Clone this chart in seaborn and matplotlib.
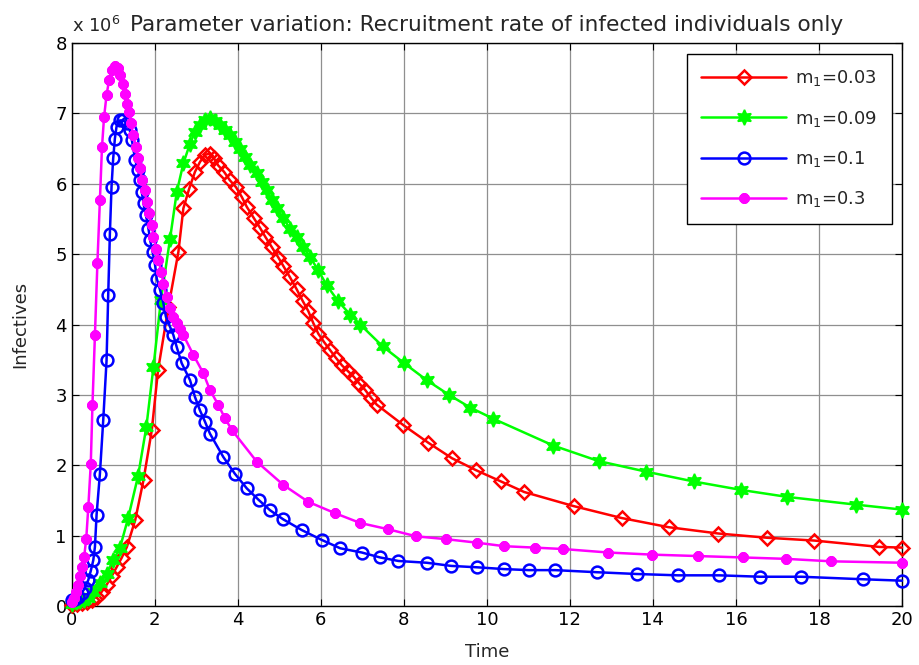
import matplotlib
matplotlib.use('Agg')
import matplotlib.pyplot as plt
import seaborn as sns

# infectives (in millions) for each recruitment rate m1
t_003 = [0, 0.12, 0.24, 0.36, 0.48, 0.6, 0.72, 0.84, 0.96, 1.08, 1.2, 1.33, 1.53, 1.73, 1.93,
         2.08, 2.33, 2.57, 2.69, 2.83, 2.97, 3.09, 3.21, 3.32, 3.43, 3.53, 3.67, 3.81, 3.96,
         4.10, 4.22, 4.38, 4.54, 4.66, 4.82, 4.98, 5.10, 5.26, 5.42, 5.56, 5.70, 5.82, 5.94,
         6.08, 6.22, 6.36, 6.51, 6.65, 6.79, 6.93, 7.07, 7.21, 7.35, 7.99, 8.59, 9.16, 9.74,
         10.34, 10.90, 12.09, 13.25, 14.38, 15.58, 16.75, 17.89, 19.45, 20]
i_003 = [0.02, 0.03, 0.04, 0.06, 0.09, 0.13, 0.2, 0.3, 0.42, 0.55, 0.68, 0.84, 1.22, 1.79, 2.50,
         3.35, 4.25, 5.03, 5.65, 5.93, 6.17, 6.31, 6.41, 6.43, 6.36, 6.26, 6.17, 6.05, 5.95,
         5.81, 5.67, 5.52, 5.37, 5.25, 5.10, 4.95, 4.83, 4.67, 4.50, 4.34, 4.19, 4.02, 3.87,
         3.75, 3.64, 3.53, 3.42, 3.34, 3.26, 3.16, 3.07, 2.96, 2.86, 2.57, 2.32, 2.10, 1.93,
         1.77, 1.62, 1.42, 1.25, 1.12, 1.03, 0.97, 0.93, 0.84, 0.83]

t_009 = [0, 0.1, 0.2, 0.3, 0.4, 0.52, 0.68, 0.84, 1.0, 1.16, 1.36, 1.6, 1.8, 1.97, 2.15, 2.37,
         2.53, 2.69, 2.85, 2.97, 3.09, 3.21, 3.33, 3.45, 3.57, 3.69, 3.81, 3.94, 4.06, 4.18,
         4.30, 4.46, 4.58, 4.70, 4.82, 4.94, 5.10, 5.26, 5.42, 5.58, 5.74, 5.94, 6.14, 6.42,
         6.71, 6.95, 7.49, 8.01, 8.55, 9.09, 9.60, 10.16, 11.60, 12.69, 13.83, 14.98, 16.12,
         17.24, 18.90, 20]
i_009 = [0.03, 0.05, 0.07, 0.09, 0.12, 0.20, 0.32, 0.46, 0.65, 0.82, 1.25, 1.85, 2.55, 3.40,
         4.35, 5.22, 5.88, 6.29, 6.57, 6.74, 6.83, 6.90, 6.93, 6.89, 6.83, 6.76, 6.69, 6.60,
         6.50, 6.38, 6.26, 6.15, 6.03, 5.91, 5.77, 5.65, 5.51, 5.36, 5.25, 5.10, 4.96, 4.77,
         4.56, 4.33, 4.14, 4.00, 3.69, 3.45, 3.21, 3.00, 2.82, 2.66, 2.28, 2.06, 1.91, 1.77,
         1.65, 1.55, 1.44, 1.37]

t_01 = [0, 0.08, 0.16, 0.24, 0.32, 0.40, 0.46, 0.52, 0.56, 0.60, 0.68, 0.76, 0.84, 0.88, 0.92,
        0.96, 1.00, 1.04, 1.08, 1.16, 1.24, 1.33, 1.40, 1.45, 1.53, 1.60, 1.65, 1.69, 1.73,
        1.79, 1.85, 1.89, 1.95, 2.01, 2.05, 2.13, 2.21, 2.27, 2.36, 2.45, 2.53, 2.65, 2.85,
        2.97, 3.09, 3.21, 3.33, 3.65, 3.93, 4.22, 4.50, 4.78, 5.10, 5.54, 6.02, 6.47, 6.99,
        7.43, 7.87, 8.55, 9.14, 9.77, 10.41, 11.01, 11.64, 12.66, 13.61, 14.60, 15.60, 16.59,
        17.57, 19.07, 20]
i_01 = [0.08, 0.10, 0.13, 0.18, 0.26, 0.37, 0.50, 0.65, 0.84, 1.30, 1.88, 2.64, 3.49, 4.42,
        5.29, 5.96, 6.36, 6.64, 6.81, 6.90, 6.90, 6.86, 6.76, 6.62, 6.34, 6.19, 6.05, 5.88,
        5.72, 5.55, 5.36, 5.20, 5.03, 4.84, 4.65, 4.49, 4.30, 4.11, 3.98, 3.85, 3.68, 3.45,
        3.21, 2.97, 2.78, 2.62, 2.45, 2.12, 1.88, 1.67, 1.51, 1.36, 1.23, 1.08, 0.94, 0.82,
        0.76, 0.69, 0.64, 0.615, 0.57, 0.55, 0.525, 0.51, 0.51, 0.48, 0.455, 0.436, 0.436,
        0.416, 0.416, 0.38, 0.36]

t_03 = [0, 0.05, 0.1, 0.15, 0.2, 0.25, 0.3, 0.35, 0.4, 0.46, 0.5, 0.56, 0.62, 0.68, 0.73,
        0.78, 0.84, 0.90, 0.97, 1.04, 1.12, 1.16, 1.24, 1.28, 1.33, 1.37, 1.43, 1.48, 1.55,
        1.60, 1.65, 1.69, 1.76, 1.81, 1.86, 1.93, 1.97, 2.04, 2.09, 2.16, 2.21, 2.29, 2.37,
        2.45, 2.53, 2.61, 2.69, 2.93, 3.17, 3.33, 3.53, 3.69, 3.86, 4.46, 5.10, 5.70, 6.34,
        6.95, 7.63, 8.30, 9.02, 9.76, 10.42, 11.15, 11.83, 12.93, 13.99, 15.08, 16.17, 17.21,
        18.30, 20]
i_03 = [0.05, 0.12, 0.2, 0.3, 0.42, 0.55, 0.7, 0.95, 1.4, 2.02, 2.85, 3.85, 4.88, 5.77, 6.52,
        6.95, 7.26, 7.47, 7.61, 7.68, 7.64, 7.54, 7.42, 7.28, 7.14, 7.02, 6.86, 6.69, 6.52,
        6.36, 6.22, 6.05, 5.91, 5.74, 5.58, 5.41, 5.25, 5.08, 4.91, 4.75, 4.58, 4.39, 4.23,
        4.10, 4.02, 3.94, 3.85, 3.57, 3.31, 3.07, 2.86, 2.67, 2.50, 2.05, 1.72, 1.48, 1.32,
        1.18, 1.09, 0.99, 0.95, 0.90, 0.85, 0.83, 0.81, 0.76, 0.73, 0.71, 0.69, 0.67, 0.635,
        0.615]

labels = ['m$_1$=0.03', 'm$_1$=0.09', 'm$_1$=0.1', 'm$_1$=0.3']

sns.set_style('ticks')
plt.rcParams['font.family'] = ['DejaVu Sans']
plt.rcParams.update({'font.size': 13, 'mathtext.default': 'regular'})

fig = plt.figure(figsize=(9.19, 6.65), dpi=100)
ax = fig.add_axes([0.078, 0.0887, 0.9035, 0.8466])

styles = [
    dict(color='#ff0000', marker='D', markersize=7.5, markerfacecolor='none', markeredgewidth=1.8),
    dict(color='#00ff00', marker=(6, 1, 0), markersize=11, markerfacecolor='#00ff00', markeredgewidth=1.2),
    dict(color='#0000ff', marker='o', markersize=8.5, markerfacecolor='none', markeredgewidth=1.8),
    dict(color='#ff00ff', marker=(8, 2, 0), markersize=7.5, markeredgewidth=2.6),
]
series = [(t_003, i_003), (t_009, i_009), (t_01, i_01), (t_03, i_03)]

for (t, inf), lab, st in zip(series, labels, styles):
    sns.lineplot(x=t, y=inf, ax=ax, sort=False, estimator=None, linewidth=1.8, label=lab,
                 markeredgecolor=st['color'], clip_on=False, zorder=3, **st)

ax.set_xlim(0, 20)
ax.set_ylim(0, 8)
ax.set_xticks(range(0, 21, 2))
ax.set_yticks(range(0, 9))
ax.grid(True, color='#8f8f8f', linewidth=0.9)
ax.set_axisbelow(True)
ax.tick_params(direction='in', top=True, right=True, length=5, width=0.8, colors='black')
for sp in ax.spines.values():
    sp.set_visible(True)
    sp.set_color('black')
    sp.set_linewidth(1.0)

ax.set_xlabel('Time', labelpad=10)
ax.set_ylabel('Infectives', labelpad=19)
ax.set_title('Parameter variation: Recruitment rate of infected individuals only', pad=9)
ax.annotate('x 10$^6$', xy=(0, 1), xycoords='axes fraction', xytext=(0, 5),
            textcoords='offset points', ha='left', va='bottom')

leg = ax.legend(loc='upper right', bbox_to_anchor=(0.9815 - 10 / 919, 1 - 54 / 665),
                bbox_transform=fig.transFigure, borderaxespad=0, fancybox=False,
                framealpha=1, edgecolor='black', handlelength=4.7, handletextpad=0.5,
                labelspacing=1.12, borderpad=0.8, numpoints=1)
leg.get_frame().set_linewidth(1.0)

fig.savefig('out.png', dpi=100)
